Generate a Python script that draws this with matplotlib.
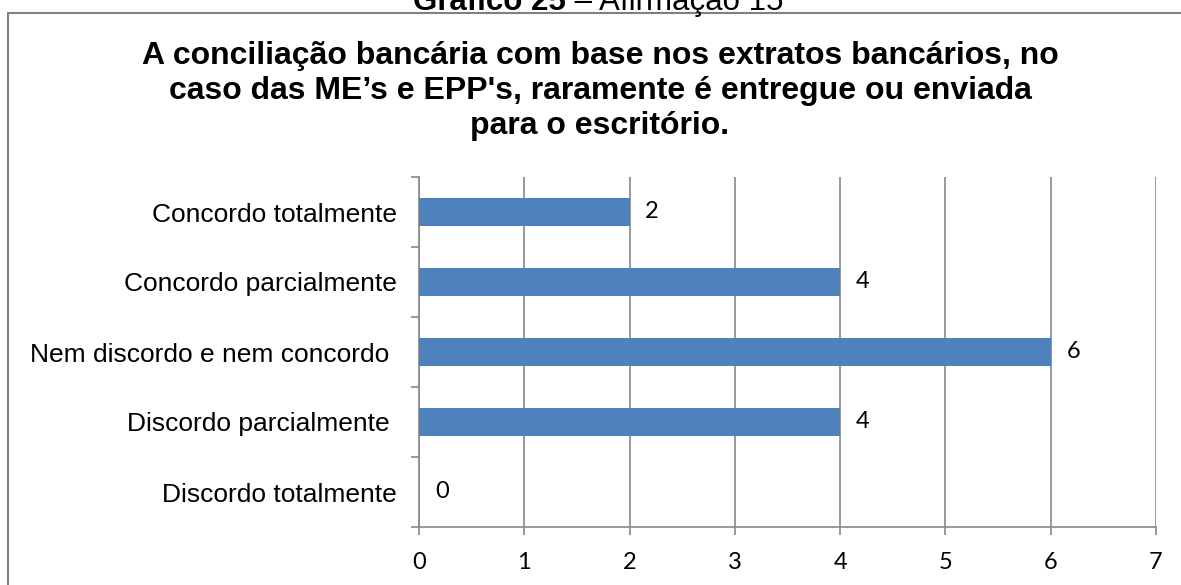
import matplotlib
matplotlib.use("Agg")
import matplotlib.pyplot as plt
from matplotlib.patches import Rectangle
from matplotlib.ticker import FixedLocator, NullFormatter

categories = [
    "Discordo totalmente",
    "Discordo parcialmente ",
    "Nem discordo e nem concordo ",
    "Concordo parcialmente",
    "Concordo totalmente",
]
values = [0, 4, 6, 4, 2]
x_ticks = [0, 1, 2, 3, 4, 5, 6, 7]

BAR = "#4F81BD"
GRID = "#888888"

fig = plt.figure(figsize=(11.81, 5.85), dpi=100)
fig.patch.set_facecolor("white")

# outer frame, running past the right and bottom edges
fig.patches.append(Rectangle((8 / 1181, -0.2), 1.2, 1 - 13 / 585 + 0.2,
                             transform=fig.transFigure, fill=False,
                             edgecolor="#808080", linewidth=1.5))

# caption above the frame (partly cut off by the top edge)
cap_y = 1 - 10 / 585
fig.text(566 / 1181, cap_y, "Gráfico 25", ha="right", va="baseline",
         fontsize=22.5, fontweight="bold", family="Liberation Sans")
fig.text(566 / 1181, cap_y, " – Afirmação 15", ha="left", va="baseline",
         fontsize=22.5, family="Liberation Sans")

fig.text(600 / 1181, 1 - 91 / 585,
         "A conciliação bancária com base nos extratos bancários, no\n"
         "caso das ME’s e EPP's, raramente é entregue ou enviada\n"
         "para o escritório.",
         ha="center", va="center", fontsize=23, fontweight="bold",
         family="Liberation Sans", linespacing=1.2)

ax = fig.add_axes([419 / 1181, 1 - 527 / 585, (1156 - 419) / 1181, 350 / 585])
pos = list(range(len(categories)))
ax.barh(pos, values, height=0.4, color=BAR, zorder=3)

for p, v in zip(pos, values):
    ax.text(v + 0.15, p, str(v), ha="left", va="center",
            fontsize=17, family="Lato", zorder=4)

ax.set_xlim(0, 7)
ax.set_ylim(-0.5, len(categories) - 0.5)
ax.set_xticks(x_ticks)
ax.set_xticklabels([str(t) for t in x_ticks], fontsize=17, family="Lato")
ax.xaxis.grid(True, color=GRID, linewidth=1.2, zorder=0)
ax.tick_params(axis="x", length=6, width=1.2, color=GRID, pad=12)

ax.set_yticks(pos)
ax.set_yticklabels(categories, fontsize=19, family="Liberation Sans")
ax.tick_params(axis="y", which="major", length=0, pad=16)
ax.yaxis.set_minor_locator(FixedLocator([i - 0.5 for i in range(len(categories) + 1)]))
ax.yaxis.set_minor_formatter(NullFormatter())
ax.tick_params(axis="y", which="minor", length=6, width=1.2, color=GRID)

for s in ("top", "right"):
    ax.spines[s].set_visible(False)
for s in ("left", "bottom"):
    ax.spines[s].set_color(GRID)
    ax.spines[s].set_linewidth(1.2)

fig.savefig("out.png", dpi=100, facecolor="white")
